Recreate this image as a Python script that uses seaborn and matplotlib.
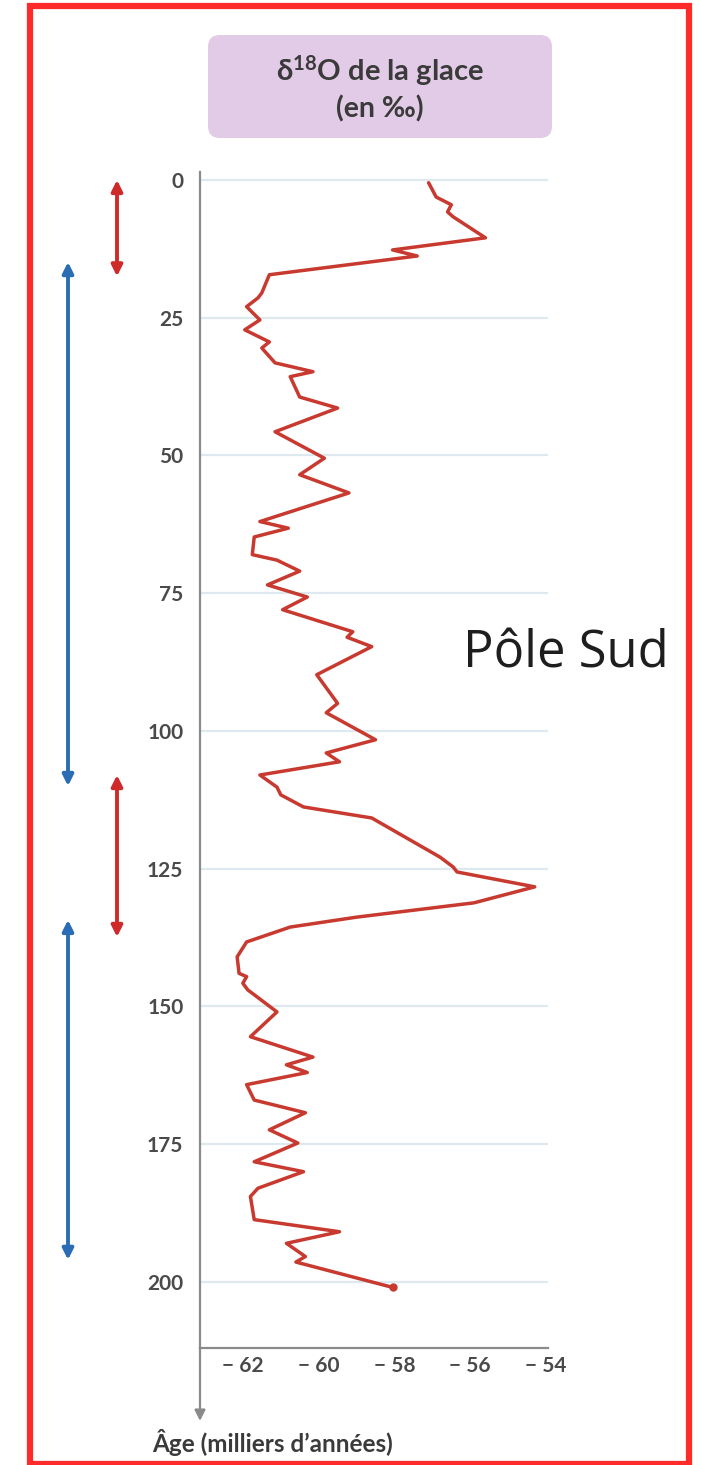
import matplotlib
matplotlib.use("Agg")
import matplotlib.pyplot as plt
import matplotlib.transforms as mtransforms
from matplotlib.patches import FancyBboxPatch, Rectangle
import seaborn as sns
import pandas as pd

# ---------------- data ----------------
age_ka = [0.5, 3.1, 4.5, 5.8, 6.7, 10.5, 12.7, 13.8, 17.2, 20.5, 21.4, 23.0, 25.4, 27.2,
          29.4, 30.5, 33.2, 34.8, 35.7, 39.4, 41.4, 45.7, 50.5, 53.5, 56.8, 62.0, 63.2,
          64.8, 68.0, 69.0, 71.0, 73.5, 75.7, 78.0, 82.0, 83.0, 84.7, 89.8, 95.0, 96.7,
          101.6, 104.0, 105.6, 108.0, 110.2, 111.6, 113.8, 115.8, 122.9, 124.7, 125.6,
          128.3, 131.2, 133.8, 135.6, 138.3, 141.0, 144.0, 144.6, 145.8, 147.0, 151.0,
          155.5, 159.2, 160.6, 162.0, 164.2, 167.0, 169.3, 172.4, 174.8, 178.2, 180.0,
          183.0, 184.5, 188.7, 190.9, 193.0, 195.4, 196.4, 201.0]
d18o = [-57.1, -56.9, -56.5, -56.6, -56.45, -55.6, -58.05, -57.4, -61.3, -61.5, -61.6,
        -61.9, -61.55, -61.95, -61.3, -61.5, -61.15, -60.15, -60.75, -60.5, -59.5, -61.15,
        -59.85, -60.5, -59.2, -61.55, -60.8, -61.7, -61.75, -61.1, -60.5, -61.35, -60.3,
        -60.95, -59.1, -59.25, -58.6, -60.05, -59.5, -59.8, -58.5, -59.8, -59.45, -61.55,
        -61.1, -61.0, -60.4, -58.6, -56.8, -56.45, -56.35, -54.3, -55.9, -59.0, -60.75,
        -61.9, -62.15, -62.1, -61.9, -62.0, -61.87, -61.1, -61.8, -60.15, -60.85, -60.3,
        -61.9, -61.7, -60.35, -61.3, -60.55, -61.7, -60.4, -61.6, -61.8, -61.7, -59.45,
        -60.85, -60.35, -60.6, -58.05]

y_ticks = [0, 25, 50, 75, 100, 125, 150, 175, 200]
x_ticks = [-62, -60, -58, -56, -54]
x_tick_labels = ["\u2212 62", "\u2212 60", "\u2212 58", "\u2212 56", "\u2212 54"]

# periods shown by double arrows (start age, end age)
warm_periods = [(0, 17.5), (108, 137.4)]
cold_periods = [(14.9, 110), (134.3, 196)]

title_line1 = r"δ$^{\mathbf{18}}$O de la glace"
title_line2 = "(en ‰)"
site_label = "Pôle Sud"
y_label = "Âge (milliers d\u2019années)"

# ---------------- figure ----------------
sns.set_theme(style="white")
plt.rcParams["font.family"] = ["Lato", "DejaVu Sans"]
plt.rcParams["mathtext.fontset"] = "custom"
plt.rcParams["mathtext.rm"] = "Lato:bold"
plt.rcParams["mathtext.bf"] = "Lato:bold"
plt.rcParams["mathtext.it"] = "Lato:bold"

W, H = 701, 1465
fig = plt.figure(figsize=(W / 100, H / 100), dpi=100)
fig.patch.set_facecolor("white")

ax_left, ax_right = 200 / W, 548 / W
ax_bottom = (H - 1348) / H
ax_top = (H - 171.7) / H
ax = fig.add_axes([ax_left, ax_bottom, ax_right - ax_left, ax_top - ax_bottom])
ax.set_facecolor("white")

df = pd.DataFrame({"age": age_ka, "d18o": d18o})
sns.lineplot(data=df, x="d18o", y="age", orient="y", sort=False, ax=ax,
             color="#c8392f", linewidth=2.5, zorder=3)
ax.plot(d18o[-1], age_ka[-1], "o", color="#c8392f", markersize=5, zorder=4)

ax.set_xlim(-63.13, -53.95)
ax.set_ylim(212, -1.5)

ax.set_yticks(y_ticks)
ax.set_yticklabels([str(t) for t in y_ticks])
ax.set_xticks(x_ticks)
ax.set_xticklabels(x_tick_labels)
ax.grid(axis="y", color="#dde8ef", linewidth=1.6)
ax.grid(axis="x", visible=False)

for s in ["top", "right"]:
    ax.spines[s].set_visible(False)
for s in ["left", "bottom"]:
    ax.spines[s].set_color("#8a8a8a")
    ax.spines[s].set_linewidth(1.6)

ax.tick_params(axis="both", which="both", length=3, width=1, color="#aaaaaa",
               labelcolor="#4a4a4a")
ax.tick_params(axis="y", labelsize=15, pad=9)
ax.tick_params(axis="x", labelsize=15, pad=3)
for lab in ax.get_yticklabels() + ax.get_xticklabels():
    lab.set_fontweight("bold")
ax.set_xlabel("")
ax.set_ylabel("")

# downward arrow continuing the age axis
ax.annotate("", xy=(0, -0.062), xytext=(0, 0), xycoords="axes fraction",
            textcoords="axes fraction",
            arrowprops=dict(arrowstyle="-|>", color="#8a8a8a", lw=1.6,
                            mutation_scale=16, shrinkA=0, shrinkB=0),
            annotation_clip=False)

fig.text(152 / W, (H - 1443) / H, y_label, ha="left", va="center",
         fontsize=17.5, fontweight="bold", color="#3a3a3a")

# period arrows (x in figure fraction, y in data)
blend = mtransforms.blended_transform_factory(fig.transFigure, ax.transData)
for (a0, a1) in warm_periods:
    ax.annotate("", xy=(117 / W, a1), xytext=(117 / W, a0), xycoords=blend,
                textcoords=blend,
                arrowprops=dict(arrowstyle="<|-|>", color="#cf2a2a", lw=2.8,
                                mutation_scale=16, shrinkA=0, shrinkB=0),
                annotation_clip=False)
for (a0, a1) in cold_periods:
    ax.annotate("", xy=(68 / W, a1), xytext=(68 / W, a0), xycoords=blend,
                textcoords=blend,
                arrowprops=dict(arrowstyle="<|-|>", color="#2a6db5", lw=2.8,
                                mutation_scale=16, shrinkA=0, shrinkB=0),
                annotation_clip=False)

# title box (pixel coordinates)
box = FancyBboxPatch((208, H - 138), 344, 103,
                     boxstyle="round,pad=0,rounding_size=12",
                     transform=None, facecolor="#e2cbe6", edgecolor="none",
                     zorder=1)
fig.patches.append(box)
fig.text(380 / W, (H - 71) / H, title_line1, ha="center", va="center",
         fontsize=21, fontweight="bold", color="#3a3a3a")
fig.text(380 / W, (H - 109) / H, title_line2, ha="center", va="center",
         fontsize=20.5, fontweight="bold", color="#3a3a3a")

# site label
fig.text(566 / W, (H - 668) / H, site_label, ha="center", va="baseline",
         fontsize=36.5, color="#1e1e1e", family=["Open Sans", "DejaVu Sans"])

# red frame
frame = Rectangle((30, 1), 659, H - 7, transform=None, fill=False,
                  edgecolor="#ff2b2b", linewidth=4.5, zorder=10)
fig.patches.append(frame)

fig.savefig("out.png", dpi=100, facecolor="white")
